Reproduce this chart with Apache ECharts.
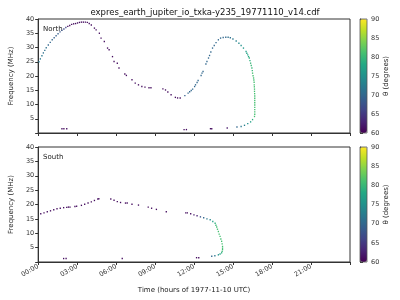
<!DOCTYPE html>
<html><head><meta charset="utf-8">
<script src="https://cdn.jsdelivr.net/npm/echarts@6/dist/echarts.min.js"></script>
<style>html,body{margin:0;padding:0;background:#fff}#c{width:400px;height:300px}</style>
</head><body><div id="c"></div>
<script>
// ---- data (time in hours of 1977-11-10, frequency MHz, theta degrees) ----
var northTime = [0.06,0.17,0.29,0.40,0.51,0.62,0.78,0.93,1.08,1.23,1.38,1.53,1.68,1.83,1.98,2.13,
  2.28,2.43,2.58,2.73,2.88,3.03,3.18,3.33,3.48,3.63,3.78,3.93,4.09,4.33,4.46,4.71,4.84,5.09,5.34,5.46,
  5.72,5.84,6.09,6.22,6.67,6.79,7.22,7.47,7.72,7.98,8.22,8.53,8.68,9.60,9.80,9.98,10.23,10.56,10.73,10.93,
  11.29,11.54,11.66,11.78,11.89,12.04,12.11,12.23,12.31,12.54,12.61,12.69,12.91,12.99,13.11,13.19,
  13.29,13.42,13.55,13.69,13.87,14.04,14.24,14.44,14.62,14.79,14.99,15.24,15.45,15.62,15.80,
  16.00,16.06,16.13,16.19,16.25,16.30,16.35,16.40,16.45,16.48,16.50,16.54,16.58,16.60,16.62,
  16.63,16.64,16.65,16.65,16.66,16.67,16.67,16.67,16.67,16.67,16.67,16.67,16.67,16.67,16.65,
  16.50,16.35,16.13,15.88,15.62,15.30,14.55,13.36,13.26,11.23,11.41,1.83,1.98,2.20];
var northFreq = [25.0,26.0,27.1,28.1,29.0,29.9,30.9,31.8,32.7,33.4,34.1,34.8,35.5,36.0,36.5,37.0,
  37.4,37.7,38.1,38.3,38.4,38.6,38.8,38.9,38.9,38.9,38.8,38.4,37.9,36.8,36.2,35.0,33.3,32.1,29.8,29.2,
  26.8,25.1,24.5,22.8,20.7,20.2,18.7,17.5,16.9,16.3,16.1,15.9,15.9,15.5,15.1,14.4,13.4,12.5,12.3,12.3,
  13.1,14.0,14.5,14.9,15.4,16.3,16.9,17.7,18.4,20.2,21.0,21.6,24.2,25.1,26.3,27.2,
  28.4,29.8,30.7,31.7,32.7,33.3,33.5,33.6,33.6,33.4,33.0,32.3,31.5,30.7,29.8,
  28.6,28.0,27.4,26.8,26.3,25.4,24.5,23.7,22.8,21.9,21.0,20.1,19.3,18.6,17.8,
  16.9,16.2,15.4,14.6,13.8,13.0,12.2,11.4,10.6,9.8,9.0,8.2,7.4,6.6,5.8,
  4.7,3.9,3.3,2.7,2.3,2.1,1.75,1.5,1.5,1.2,1.2,1.5,1.5,1.5];
var northTheta = [72,72,72,71,71,71,70,70,70,69,69,69,68,68,67,66,
  61,61,61,61,61,61,61,61,61,61,61,61,61,61,61,61,61,61,61,61,
  61,61,61,61,61,61,61,61,61,61,61,61,61,61,61,61,61,61,61,61,
  69,70,70,70,70,70,70,70,70,70,70,70,70,70,70,70,
  70,70,70,70,70,70,70,70,71,71,72,73,74,75,76,
  77,77,78,78,79,79,80,80,80,80,81,81,81,81,81,
  81,81,81,81,81,81,81,81,81,81,81,81,81,81,81,
  79,77,75,73,72,70,62,61,61,61,61,61,61,61];

var southTime = [0.20,0.45,0.70,0.95,1.20,1.45,1.70,1.96,2.20,2.33,2.45,2.83,2.96,3.33,3.58,3.84,4.09,4.33,4.59,4.67,
  5.59,5.84,6.09,6.34,6.72,6.85,7.22,7.72,8.47,8.73,9.10,9.86,
  11.36,11.48,11.74,11.99,12.23,12.49,12.74,12.99,13.24,13.44,13.62,13.68,13.74,13.80,13.87,13.93,14.00,14.06,14.12,14.16,14.19,14.19,14.19,14.16,14.12,14.00,13.87,13.60,13.36,
  1.96,2.15,6.47,12.19,12.36];
var southFreq = [16.8,17.1,17.5,17.8,18.2,18.5,18.7,18.9,19.0,19.1,19.1,19.3,19.4,19.7,20.1,20.5,20.9,21.4,21.9,22.0,
  21.9,21.5,21.0,20.7,20.5,20.5,20.1,19.8,19.1,18.7,18.3,17.5,
  17.1,17.1,16.8,16.4,16.1,15.7,15.4,15.0,14.7,14.1,13.5,12.8,12.2,11.4,10.6,9.7,8.9,8.0,7.2,6.3,5.4,4.8,4.3,3.7,3.2,2.8,2.5,2.2,2.0,
  1.2,1.2,1.2,1.5,1.5];
var southTheta = [61,61,61,61,61,61,61,61,61,61,61,61,61,61,61,61,61,61,61,61,
  61,61,61,61,61,61,61,61,61,61,61,61,
  61,61,61,62,63,68,70,72,74,77,79,80,81,81,81,81,81,81,81,81,81,81,81,80,79,77,75,72,70,
  61,61,61,61,61];

var hourTicks = [0,3,6,9,12,15,18,21];
var freqTicks = [5,10,15,20,25,30,35,40];
var thetaTicks = [60,65,70,75,80,85,90];

function pts(t,f,th){ return t.map(function(v,i){ return [v,f[i],th[i]]; }); }

var viridis = ['#440154','#482475','#414487','#355f8d','#2a788e','#21918c','#22a884','#44bf70','#7ad151','#bddf26','#fde725'];
var FONT = 'DejaVu Sans';
var axCol = '#333';

var G = [
  {left:31, top:19, width:319, height:114},
  {left:31, top:147, width:319, height:115}
];

function grid(g){ return {left:g.left, top:g.top, width:g.width, height:g.height, show:true, borderColor:axCol, borderWidth:1, backgroundColor:'transparent'}; }

var option = {
  animation:false,
  backgroundColor:'#fff',
  textStyle:{fontFamily:FONT},
  title:{text:'expres_earth_jupiter_io_txka-y235_19771110_v14.cdf', left:200, textAlign:'center', top:3,
    textStyle:{fontFamily:FONT, fontSize:8.5, fontWeight:'normal', color:'#111'}},
  grid:[grid(G[0]), grid(G[1]),
    {left:360, top:19, width:7, height:114, show:true, z:10, borderColor:'#555', borderWidth:0.8, backgroundColor:'transparent'},
    {left:360, top:147, width:7, height:115, show:true, z:10, borderColor:'#555', borderWidth:0.8, backgroundColor:'transparent'}],
  xAxis:[0,1].map(function(i){ return {
    type:'value', gridIndex:i, min:0, max:24, interval:3,
    axisLine:{show:true, lineStyle:{color:axCol}}, splitLine:{show:false},
    axisTick:{show:true, length:3, lineStyle:{color:axCol}},
    axisLabel:{show:i===1, rotate:30, fontSize:6.5, color:'#333', margin:4, fontFamily:FONT,
      formatter:function(v){ return hourTicks.indexOf(v)>=0 ? ((v<10?'0':'')+v+':00') : ''; }},
    name: i===1 ? 'Time (hours of 1977-11-10 UTC)' : '', nameLocation:'middle', nameGap:25,
    nameTextStyle:{fontSize:7, color:'#222', fontFamily:FONT}
  }; }).concat([2,3].map(function(i){ return {type:'value', gridIndex:i, show:false, min:0, max:1}; })),
  yAxis:[0,1].map(function(i){ return {
    type:'value', gridIndex:i, min:0, max:40, interval:5,
    axisLine:{show:true, lineStyle:{color:axCol}}, splitLine:{show:false},
    axisTick:{show:true, length:3, lineStyle:{color:axCol}},
    axisLabel:{fontSize:6.5, color:'#333', margin:4, fontFamily:FONT,
      formatter:function(v){ return freqTicks.indexOf(v)>=0 ? String(v) : ''; }},
    name:'Frequency (MHz)', nameLocation:'middle', nameGap:19, nameRotate:90,
    nameTextStyle:{fontSize:7, color:'#222', fontFamily:FONT}
  }; }).concat([2,3].map(function(i){ return {
    type:'value', gridIndex:i, position:'right', min:60, max:90, interval:5,
    axisLine:{show:true, lineStyle:{color:axCol}}, splitLine:{show:false},
    axisTick:{show:true, length:3, lineStyle:{color:axCol}},
    axisLabel:{fontSize:6.5, color:'#333', margin:4, fontFamily:FONT,
      formatter:function(v){ return thetaTicks.indexOf(v)>=0 ? String(v) : ''; }},
    name:'θ (degrees)', nameLocation:'middle', nameGap:16, nameRotate:90,
    nameTextStyle:{fontSize:7, color:'#222', fontFamily:FONT}
  }; })),
  visualMap:[
    {type:'continuous', min:60, max:90, dimension:2, seriesIndex:0, left:360, top:19, itemWidth:7, itemHeight:114,
     padding:0, text:null, calculable:false, showLabel:false, inRange:{color:viridis}, hoverLink:false},
    {type:'continuous', min:60, max:90, dimension:2, seriesIndex:1, left:360, top:147, itemWidth:7, itemHeight:115,
     padding:0, text:null, calculable:false, showLabel:false, inRange:{color:viridis}, hoverLink:false}
  ],
  graphic:[
    {type:'text', left:43, top:26, style:{text:'North', fontSize:7, fill:'#222', fontFamily:FONT}},
    {type:'text', left:43, top:154, style:{text:'South', fontSize:7, fill:'#222', fontFamily:FONT}}
  ],
  series:[
    {type:'scatter', xAxisIndex:0, yAxisIndex:0, symbol:'rect', symbolSize:[1.3,1.4], itemStyle:{opacity:1}, data:pts(northTime,northFreq,northTheta)},
    {type:'scatter', xAxisIndex:1, yAxisIndex:1, symbol:'rect', symbolSize:[1.3,1.4], itemStyle:{opacity:1}, data:pts(southTime,southFreq,southTheta)}
  ]
};
var chart = echarts.init(document.getElementById('c'), null, {renderer:'canvas'});
chart.setOption(option);
</script></body></html>
